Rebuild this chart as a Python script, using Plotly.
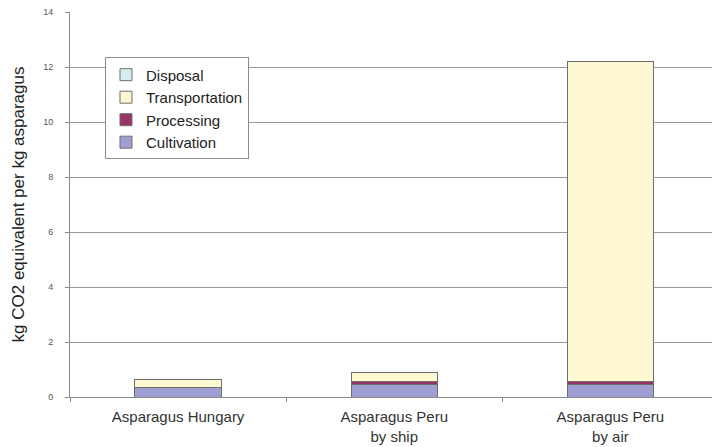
import plotly.graph_objects as go

# Carbon footprint of asparagus by origin and transport mode
categories = ["Asparagus Hungary", "Asparagus Peru<br>by ship", "Asparagus Peru<br>by air"]
cultivation = [0.35, 0.45, 0.45]
processing = [0.0, 0.10, 0.10]
transportation = [0.29, 0.34, 11.65]
disposal = [0.0, 0.0, 0.0]
y_ticks = [0, 2, 4, 6, 8, 10, 12, 14]

series = [
    ("Cultivation", cultivation, "#9f9fd3"),
    ("Processing", processing, "#993366"),
    ("Transportation", transportation, "#fdf8d2"),
    ("Disposal", disposal, "#d6eef2"),
]

fig = go.Figure()
for name, values, color in series:
    fig.add_trace(go.Bar(
        x=categories, y=values, name=name,
        marker=dict(color=color, line=dict(color="#6e6e6e", width=1)),
        width=0.4,
    ))

fig.update_layout(
    barmode="stack",
    width=712, height=447,
    margin=dict(l=70, r=0, t=12, b=50),
    paper_bgcolor="white",
    plot_bgcolor="white",
    font=dict(family="Liberation Sans, Arial, sans-serif", color="#333333"),
    showlegend=True,
    legend=dict(
        x=0.0545, y=0.882, xanchor="left", yanchor="top",
        traceorder="reversed",
        bgcolor="white",
        bordercolor="#8a8a8a", borderwidth=1,
        font=dict(size=15, color="#222222"),
        tracegroupgap=0,
    ),
    xaxis=dict(
        type="category",
        range=[-0.5, 2.47],
        tickson="boundaries",
        ticks="outside", ticklen=4, tickcolor="#8a8a8a",
        ticklabelstandoff=6,
        showline=True, linecolor="#8a8a8a", linewidth=1,
        showgrid=False,
        tickfont=dict(size=15, color="#333333"),
    ),
    yaxis=dict(
        range=[0, 14],
        tickvals=y_ticks,
        ticks="outside", ticklen=4, tickcolor="#8a8a8a",
        ticklabelstandoff=10,
        showline=True, linecolor="#8a8a8a", linewidth=1,
        showgrid=True, gridcolor="#9a9a9a", gridwidth=1,
        zeroline=False,
        tickfont=dict(size=9, color="#555555"),
        title=dict(text="kg CO2 equivalent per kg asparagus",
                   font=dict(size=17, color="#222222"), standoff=14),
    ),
)

fig.write_html("out.html")
